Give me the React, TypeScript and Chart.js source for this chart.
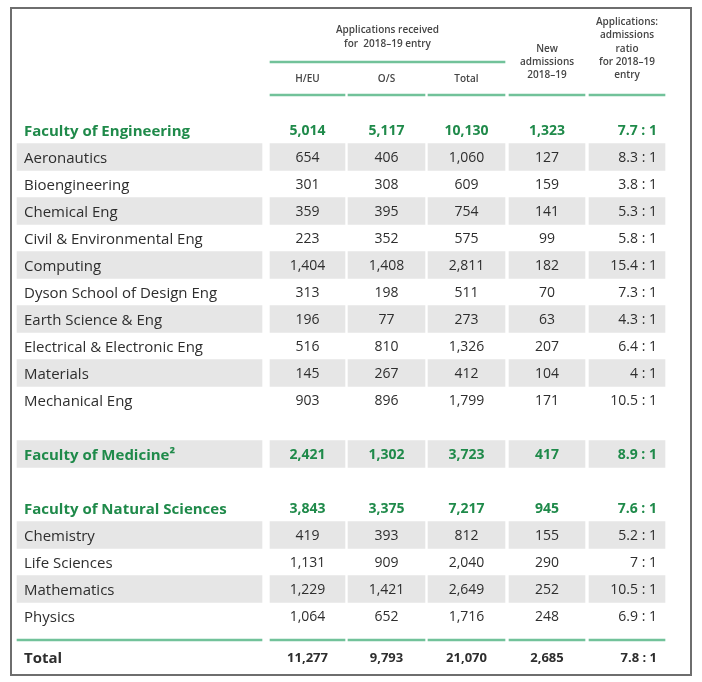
import React, { useEffect, useRef } from "react";
import { Chart, registerables } from "chart.js";

Chart.register(...registerables);

// ---------- data ----------
const categories = [
  "Faculty of Engineering",
  "Aeronautics",
  "Bioengineering",
  "Chemical Eng",
  "Civil & Environmental Eng",
  "Computing",
  "Dyson School of Design Eng",
  "Earth Science & Eng",
  "Electrical & Electronic Eng",
  "Materials",
  "Mechanical Eng",
  "Faculty of Medicine²",
  "Faculty of Natural Sciences",
  "Chemistry",
  "Life Sciences",
  "Mathematics",
  "Physics",
];
const isFaculty = [true, false, false, false, false, false, false, false, false, false, false, true, true, false, false, false, false];
const hEU = [5014, 654, 301, 359, 223, 1404, 313, 196, 516, 145, 903, 2421, 3843, 419, 1131, 1229, 1064];
const overseas = [5117, 406, 308, 395, 352, 1408, 198, 77, 810, 267, 896, 1302, 3375, 393, 909, 1421, 652];
const totalApps = [10130, 1060, 609, 754, 575, 2811, 511, 273, 1326, 412, 1799, 3723, 7217, 812, 2040, 2649, 1716];
const newAdmissions = [1323, 127, 159, 141, 99, 182, 70, 63, 207, 104, 171, 417, 945, 155, 290, 252, 248];
const ratio = [7.7, 8.3, 3.8, 5.3, 5.8, 15.4, 7.3, 4.3, 6.4, 4, 10.5, 8.9, 7.6, 5.2, 7, 10.5, 6.9];
const totalLabel = "Total";
const totals = [11277, 9793, 21070, 2685];
const totalRatio = 7.8;

const groupHeader = ["Applications received", "for  2018–19 entry"];
const colHeaders = ["H/EU", "O/S", "Total"];
const newHeader = ["New", "admissions", "2018–19"];
const ratioHeader = ["Applications:", "admissions", "ratio", "for 2018–19", "entry"];

// ---------- layout ----------
const W = 702;
const H = 682;
const ROW0 = 130;
const PITCH = 27;
const toRow = (py: number) => (py - ROW0) / PITCH;
const rowSlot = [0, 1, 2, 3, 4, 5, 6, 7, 8, 9, 10, 12, 14, 15, 16, 17, 18];
const shaded = [1, 3, 5, 7, 9, 11, 13, 15]; // indices into categories
const totalSlot = toRow(657);
const colLeft = [17, 270, 348, 428, 509, 589];
const colRight = [262, 345, 425, 505, 585, 665];
const labelX = 24;
const ratioRightX = 657;
const TEXT_DY = 1.5; // optical baseline correction (px)

const GREEN = "#1f8a4a";
const LINE_GREEN = "#72c29a";
const GREY = "#e6e6e6";
const TEXT = "#2e2e2e";
const HEAD = "#454545";
const FONT = '"Open Sans", "Noto Sans", sans-serif';

const fmt = (n: number) => n.toLocaleString("en-GB");
const fmtRatio = (r: number) => `${r} : 1`;

const tablePlugin = {
  id: "tableText",
  afterDatasetsDraw(chart: any) {
    const { ctx } = chart;
    const x = chart.scales.x;
    const y = chart.scales.y;
    const py = (row: number) => y.getPixelForValue(row) + TEXT_DY;
    ctx.save();
    // frame
    ctx.strokeStyle = "#6e6e6e";
    ctx.lineWidth = 2;
    const fl = x.getPixelForValue(11);
    const fr = x.getPixelForValue(691);
    const ft = y.getPixelForValue(toRow(8));
    const fb = y.getPixelForValue(toRow(675));
    ctx.strokeRect(fl, ft, fr - fl, fb - ft);

    ctx.textBaseline = "middle";
    // headers
    ctx.fillStyle = HEAD;
    ctx.textAlign = "center";
    ctx.font = `600 10px ${FONT}`;
    const gx = x.getPixelForValue((colLeft[1] + colRight[3]) / 2);
    ctx.fillText(groupHeader[0], gx, py(toRow(29)));
    ctx.fillText(groupHeader[1], gx, py(toRow(43)));
    colHeaders.forEach((h, i) => {
      const cx = x.getPixelForValue((colLeft[i + 1] + colRight[i + 1]) / 2);
      ctx.fillText(h, cx, py(toRow(78)));
    });
    const nx = x.getPixelForValue((colLeft[4] + colRight[4]) / 2);
    [48, 61, 74].forEach((p, i) => ctx.fillText(newHeader[i], nx, py(toRow(p))));
    const rx = x.getPixelForValue((colLeft[5] + colRight[5]) / 2);
    [21, 34, 48, 61, 74].forEach((p, i) => ctx.fillText(ratioHeader[i], rx, py(toRow(p))));

    // body rows
    categories.forEach((cat, i) => {
      const ry = py(rowSlot[i]);
      const fac = isFaculty[i];
      ctx.fillStyle = fac ? GREEN : TEXT;
      ctx.textAlign = "left";
      ctx.font = `${fac ? 700 : 500} 15px ${FONT}`;
      ctx.fillText(cat, x.getPixelForValue(labelX), ry);
      ctx.font = `${fac ? 700 : 400} 14px ${FONT}`;
      ctx.textAlign = "center";
      [hEU[i], overseas[i], totalApps[i], newAdmissions[i]].forEach((v, c) => {
        const cx = x.getPixelForValue((colLeft[c + 1] + colRight[c + 1]) / 2);
        ctx.fillText(fmt(v), cx, ry);
      });
      ctx.textAlign = "right";
      ctx.fillText(fmtRatio(ratio[i]), x.getPixelForValue(ratioRightX), ry);
    });

    // total row
    const ty = py(totalSlot);
    ctx.fillStyle = TEXT;
    ctx.textAlign = "left";
    ctx.font = `700 15px ${FONT}`;
    ctx.fillText(totalLabel, x.getPixelForValue(labelX), ty);
    ctx.font = `700 13px ${FONT}`;
    ctx.textAlign = "center";
    totals.forEach((v, c) => {
      const cx = x.getPixelForValue((colLeft[c + 1] + colRight[c + 1]) / 2);
      ctx.fillText(fmt(v), cx, ty);
    });
    ctx.textAlign = "right";
    ctx.fillText(fmtRatio(totalRatio), x.getPixelForValue(ratioRightX), ty);
    ctx.restore();
  },
};

export default function App() {
  const ref = useRef<HTMLCanvasElement | null>(null);
  useEffect(() => {
    if (!ref.current) return;
    const datasets: any[] = [];
    // shaded cells
    for (let c = 0; c < colLeft.length; c++) {
      datasets.push({
        data: shaded.map((i) => ({ x: [colLeft[c], colRight[c]], y: rowSlot[i] })),
        backgroundColor: GREY,
        borderWidth: 0,
        barThickness: 27,
        grouped: false,
      });
    }
    // green rules
    const rules: any[] = [];
    rules.push({ x: [colLeft[1], colRight[3]], y: toRow(62) });
    for (let c = 1; c < colLeft.length; c++) rules.push({ x: [colLeft[c], colRight[c]], y: toRow(95) });
    for (let c = 0; c < colLeft.length; c++) rules.push({ x: [colLeft[c], colRight[c]], y: toRow(640) });
    datasets.push({
      data: rules,
      backgroundColor: LINE_GREEN,
      borderWidth: 0,
      barThickness: 2,
      grouped: false,
    });

    const chart = new Chart(ref.current, {
      type: "bar",
      data: { datasets },
      options: {
        indexAxis: "y",
        animation: false,
        responsive: false,
        devicePixelRatio: 1,
        layout: { padding: 0 },
        plugins: { legend: { display: false }, tooltip: { enabled: false } },
        scales: {
          x: { type: "linear", min: 0, max: W, display: false, offset: false },
          y: { type: "linear", min: toRow(0), max: toRow(H), reverse: true, display: false, offset: false },
        },
      } as any,
      plugins: [tablePlugin],
    });
    return () => chart.destroy();
  }, []);

  return (
    <div style={{ position: "absolute", left: 0, top: 0, width: W, height: H, background: "#fff" }}>
      <canvas ref={ref} width={W} height={H} />
    </div>
  );
}
